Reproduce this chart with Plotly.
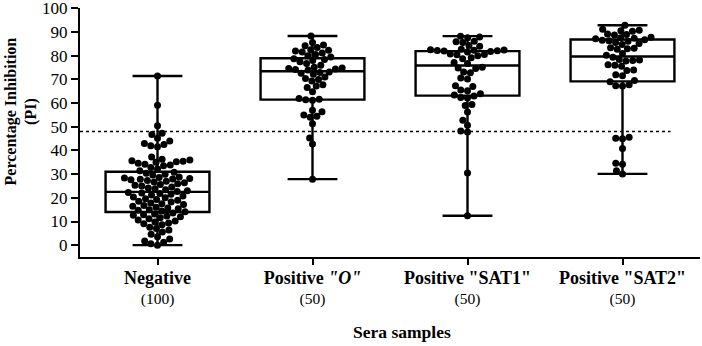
import numpy as np
import plotly.graph_objects as go

categories = ["Negative", "Positive <i>\"O\"</i>", "Positive \"SAT1\"", "Positive \"SAT2\""]
counts = [100, 50, 50, 50]
tick_labels = [
    "<span style='font-size:18px'><b>%s</b></span><br>(%d)" % (c, n)
    for c, n in zip(categories, counts)
]

negative = [71.5, 59.1, 50.5, 47.3, 46.8, 45.2, 44.0, 43.0, 42.5, 42.0, 41.6, 37.2, 36.3, 36.0, 35.7,
            35.5, 35.2, 35.0, 34.6, 34.2, 33.9, 33.5, 32.8, 32.2, 31.4,
            30.8, 30.4, 30.0, 29.6, 28.8, 28.6, 28.4, 28.2, 28.0, 27.8, 27.6, 27.3, 27.0, 26.7, 26.4,
            26.0, 25.6, 25.3, 25.0, 24.6, 24.2, 23.8, 23.4, 23.0, 22.7,
            22.3, 22.0, 21.8, 21.5, 21.2, 20.8, 20.4, 20.0, 19.6, 19.3, 19.0, 18.6, 18.2, 17.8, 17.5,
            17.2, 16.8, 16.4, 16.0, 15.7, 15.4, 15.0, 14.7, 14.4, 14.1,
            13.6, 13.2, 12.9, 12.6, 12.3, 12.0, 11.6, 11.2, 10.6, 10.2, 9.8, 9.4, 9.0, 8.6, 7.6,
            7.0, 6.4, 5.6, 4.6, 3.6, 2.6, 1.8, 1.2, 0.6, 0.0]
positive_o = [88.4, 85.6, 84.6, 84.2, 83.5, 82.6, 82.3, 82.0, 81.6, 81.2, 80.6, 80.0, 79.5,
              78.8, 78.4, 78.0, 77.5, 76.8, 76.0, 75.2, 74.8, 74.6, 74.4, 74.2, 74.0,
              73.2, 73.0, 72.6, 72.2, 71.0, 70.4, 70.0, 69.4, 67.8, 67.2, 66.6, 64.8,
              62.0, 61.6, 61.4, 61.2, 57.0, 56.4, 55.0, 54.5, 54.0, 51.3, 45.3, 42.7, 27.9]
positive_sat1 = [88.3, 88.0, 87.6, 86.2, 85.9, 85.6, 84.4, 84.0, 82.8, 82.6, 82.5, 82.4,
                 82.2, 82.1, 82.0, 81.8, 81.6, 80.8, 80.6, 80.4, 80.0, 79.2, 78.8, 77.2, 76.8,
                 75.2, 74.9, 74.6, 73.2, 72.8, 70.6, 70.2, 67.4, 67.0, 65.6, 65.2, 64.0,
                 63.4, 63.0, 62.4, 62.2, 59.4, 59.0, 56.3, 52.8, 50.7, 48.2, 47.8, 30.5, 12.4]
positive_sat2 = [92.9, 91.2, 90.8, 90.6, 90.4, 89.2, 89.0, 88.8, 87.8, 87.6, 87.4, 87.2,
                 86.8, 86.6, 86.4, 86.2, 85.6, 85.2, 84.8, 83.4, 83.2, 83.0, 82.8, 81.0, 80.2,
                 79.4, 78.4, 78.2, 78.0, 77.8, 76.2, 76.0, 75.6, 74.0, 73.8, 72.0, 71.6,
                 69.6, 69.0, 67.8, 67.4, 67.2, 45.6, 45.2, 45.0, 40.8, 34.6, 34.2, 31.4, 30.1]

q1_values = [14.0, 61.5, 63.2, 69.2]
median_values = [22.5, 73.5, 75.9, 79.7]
q3_values = [31.0, 79.0, 82.0, 86.9]
cutoff = 48.0

groups = [negative, positive_o, positive_sat1, positive_sat2]

# geometry for the swarm (pixel scale of the axes)
PX_X = 155.0   # px per category unit
PX_Y = 2.37    # px per percent
DOT = 6.8      # px spacing between dot centres


def beeswarm(values):
    order = np.argsort(values)
    placed = []
    xs = np.zeros(len(values))
    for idx in order:
        y = values[idx] * PX_Y
        cands = [0.0]
        for (px, py) in placed:
            dy = abs(py - y)
            if dy < DOT:
                dx = np.sqrt(DOT ** 2 - dy ** 2)
                cands += [px + dx, px - dx]
        cands = sorted(cands, key=lambda c: (abs(c), c))
        for c in cands:
            ok = True
            for (px, py) in placed:
                if (px - c) ** 2 + (py - y) ** 2 < DOT ** 2 - 1e-6:
                    ok = False
                    break
            if ok:
                xs[idx] = c
                placed.append((c, y))
                break
    return xs / PX_X


fig = go.Figure()
for i, vals in enumerate(groups):
    fig.add_trace(go.Box(
        x=[i], q1=[q1_values[i]], median=[median_values[i]], q3=[q3_values[i]],
        lowerfence=[min(vals)], upperfence=[max(vals)],
        width=0.67, whiskerwidth=0.48, boxpoints=False,
        fillcolor="rgba(255,255,255,0)", line=dict(color="black", width=2.4),
        showlegend=False, hoverinfo="skip"))

for i, vals in enumerate(groups):
    offs = beeswarm(np.array(vals))
    fig.add_trace(go.Scatter(
        x=i + offs, y=vals, mode="markers",
        marker=dict(color="black", size=7, line=dict(width=0)),
        showlegend=False))

fig.add_shape(type="line", xref="x", yref="y", x0=-0.5, x1=3.31, y0=cutoff, y1=cutoff,
              line=dict(color="black", width=1.6, dash="3px,3px"), layer="below")

serif = "Liberation Serif, Times New Roman, serif"
fig.update_layout(
    width=702, height=346,
    margin=dict(l=80, r=2, t=8, b=89, autoexpand=False),
    plot_bgcolor="white", paper_bgcolor="white",
    font=dict(family=serif, color="black"),
    xaxis=dict(range=[-0.5, 3.5], tickmode="array", tickvals=list(range(4)), ticktext=tick_labels,
               showline=True, linecolor="black", linewidth=2, ticks="outside", ticklen=6,
               tickwidth=2, tickcolor="black", showgrid=False, zeroline=False, automargin=False,
               tickfont=dict(size=15.5, family=serif), ticklabeloverflow="allow"),
    yaxis=dict(range=[-5, 100.2], tickmode="array", tickvals=list(range(0, 101, 10)),
               showline=True, linecolor="black", linewidth=2, ticks="outside", ticklen=7,
               tickwidth=2, tickcolor="black", showgrid=False, zeroline=False, automargin=False,
               tickfont=dict(size=17, family=serif), ticklabeloverflow="allow"),
    annotations=[
        dict(text="<b>Percentage Inhibition</b><br><b>(PI)</b>", textangle=-90,
             xref="paper", yref="y", x=0, y=56.5, xshift=-59, xanchor="center", yanchor="middle",
             showarrow=False, font=dict(size=16, family=serif)),
        dict(text="<b>Sera samples</b>", xref="x", yref="paper", x=1.58, y=0, yshift=-75,
             xanchor="center", yanchor="middle", showarrow=False, font=dict(size=17.5, family=serif)),
    ],
)

fig.write_html("out.html", config={"displayModeBar": False},
               post_script="document.body.style.margin='0';")
